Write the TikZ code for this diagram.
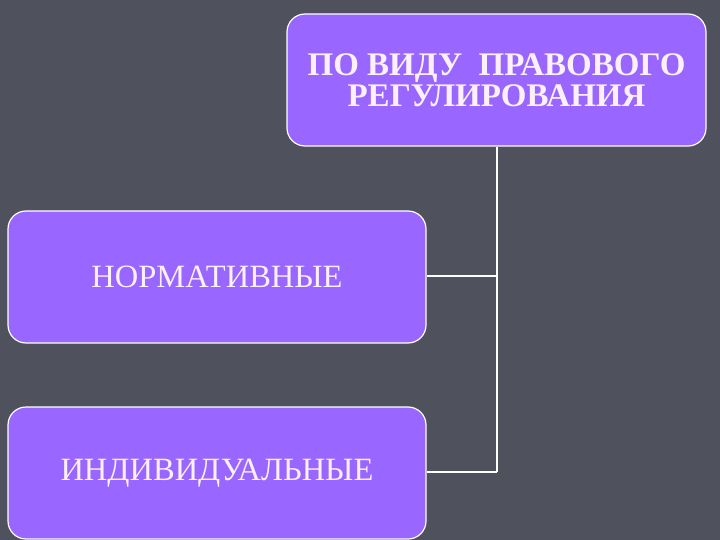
\documentclass[tikz,border=0pt]{standalone}
\usepackage{fontspec}
\setmainfont{Liberation Serif}
\definecolor{bg}{HTML}{4F525C}
\definecolor{boxfill}{HTML}{9966FF}
\definecolor{txt}{HTML}{FBF0F8}
\begin{document}
\begin{tikzpicture}[x=1pt,y=-1pt,
  box/.style={draw=white,line width=1.2pt,fill=boxfill,rounded corners=18pt,text=txt,align=center,inner sep=0pt},
  conn/.style={draw=white,line width=2pt}]
\fill[bg] (0,0) rectangle (720,540);
\useasboundingbox (0,0) rectangle (720,540);
\node[box,minimum width=419pt,minimum height=132pt,font=\fontsize{33}{31}\selectfont\bfseries] (top) at (496.5,80) {ПО ВИДУ\ \ ПРАВОВОГО\\ РЕГУЛИРОВАНИЯ};
\node[box,minimum width=418pt,minimum height=132pt,font=\fontsize{32.5}{33}\selectfont] (norm) at (217,277) {НОРМАТИВНЫЕ};
\node[box,minimum width=418pt,minimum height=132pt,font=\fontsize{32.5}{33}\selectfont] (ind) at (217,473) {ИНДИВИДУАЛЬНЫЕ};
\coordinate (j1) at (497,276);
\coordinate (j2) at (497,472);
\draw[conn] (top.south -| j1) -- (j2);
\draw[conn] (norm.east |- j1) -- (j1);
\draw[conn] (ind.east |- j2) -- (j2);
\end{tikzpicture}
\end{document}
